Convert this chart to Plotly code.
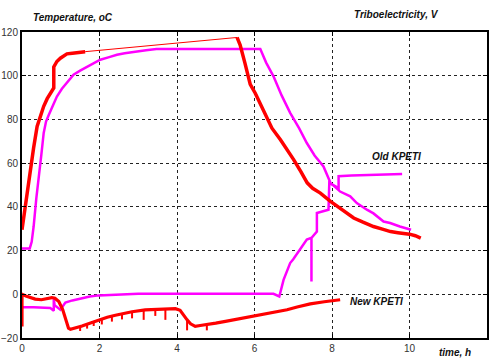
import plotly.graph_objects as go

# ---- data (time in hours) ----
new_temp_x1 = [0, 0.1, 0.2, 0.3, 0.39, 0.48, 0.56, 0.65, 0.73, 0.82, 0.82, 0.9, 0.99, 1.08, 1.16, 1.3, 1.45, 1.63]
new_temp_y1 = [29.5, 43, 55, 67, 76.8, 82, 86, 89.5, 92, 94.4, 104, 106.5, 108, 109.2, 110, 110.3, 110.6, 111]

new_temp_gap_x = [1.63, 5.55]
new_temp_gap_y = [111, 117.5]

new_temp_x2 = [5.55, 5.63, 5.75, 5.89, 6.02, 6.15, 6.28, 6.45, 6.67, 6.85, 7.01, 7.2, 7.36, 7.5, 7.7,
               7.96, 8.21, 8.4, 8.56, 8.8, 9.07, 9.3, 9.51, 9.7, 9.85, 10.0, 10.15, 10.29]
new_temp_y2 = [117.5, 114, 106, 96, 92, 87, 82, 76, 70.7, 66, 61.6, 56, 51, 48.5, 46.3,
               42.5, 39.4, 37, 34.9, 33, 31, 29.8, 28.7, 28.2, 28, 27.5, 26.8, 25.7]

old_temp_x = [0, 0.2, 0.25, 0.3, 0.37, 0.45, 0.5, 0.56, 0.62, 0.69, 0.8, 0.9, 1.03, 1.16, 1.33, 1.5, 1.68,
              1.85, 2.02, 2.25, 2.45, 2.65, 2.88, 3.2, 3.47, 3.8, 4.5, 5.0, 5.5, 6.15, 6.3, 6.49, 6.7,
              6.92, 7.15, 7.35, 7.55, 7.78, 7.96, 8.21, 8.47, 8.64, 8.9, 9.07, 9.33, 9.5, 9.75, 10.04]
old_temp_y = [21, 21, 24, 31, 44, 55, 64, 73.8, 79, 82, 86.5, 90.5, 94, 96.7, 100.5, 102.3, 104,
              105.8, 107.3, 108.5, 109.6, 110.3, 111, 111.7, 112.2, 112.2, 112.2, 112.2, 112.2, 112.2, 106, 99.7, 91,
              83, 76, 69.2, 63.5, 58.5, 51, 47, 44.8, 41.7, 38.7, 37, 33.3, 32.6, 31, 29.5]

old_tribo_x = [0, 0.3, 0.73, 0.8, 0.82, 0.82, 0.84, 0.99, 1.12, 1.3, 1.55, 1.75, 1.98, 2.5, 3, 4, 5, 6,
               6.49, 6.58, 6.64, 6.75, 6.92, 7.0, 7.18, 7.35, 7.47, 7.47, 7.47, 7.61, 7.61, 7.91, 7.93,
               8.17, 8.17, 8.5, 9.0, 9.5, 9.81]
old_tribo_y = [-5.9, -5.9, -6.3, -7, -7.5, -1.7, -5, -7.1, -3.8, -2.8, -1.7, -1, -0.5, 0, 0.2, 0.3, 0.4, 0.3,
               0.2, -0.7, -1, 6.6, 14.3, 16, 20.4, 25, 25.8, 5.9, 25.8, 28.7, 37.2, 38.7, 51,
               48.6, 54, 54.3, 54.6, 54.8, 55]

new_tribo_x = [0, 0, 0.1, 0.34, 0.5, 0.69, 0.77, 0.85, 0.95, 1.05, 1.2, 1.25, 1.4, 1.55, 1.75, 1.98, 2.2,
               2.41, 2.67, 2.84, 3.18, 3.5, 3.96, 4.08, 4.13, 4.2, 4.26, 4.35, 4.47, 4.6, 4.73, 4.85, 5.0,
               5.25, 5.72, 5.98, 6.4, 6.84, 7.1, 7.44, 7.8, 8.21]
new_tribo_y = [-14.7, 0, -0.8, -2.2, -2.5, -1.7, -1.5, -1.8, -3.3, -7, -15.5, -16, -15.3, -14.5, -13.2, -11.7, -10.5,
               -9.6, -8.6, -8.0, -7.1, -6.8, -6.6, -7.3, -8.6, -10.5, -11.7, -13.5, -14.7, -14.3, -14, -13.8, -13.2,
               -12.4, -10.9, -10.2, -8.6, -7.1, -5.8, -4.4, -3.4, -2.5]

# short downward spikes on the New KPETI triboelectricity record
spike_x = [1.50, 1.68, 1.85, 2.06, 2.32, 2.58, 2.84, 3.14, 3.44, 3.70, 4.26, 4.77]
spike_top = [-14.8, -13.7, -12.5, -11.3, -10.0, -9.0, -8.0, -7.2, -6.9, -6.7, -11.7, -14.0]
spike_bottom = [-16.8, -15.7, -14.5, -13.8, -12.5, -11.5, -11.0, -11.7, -9.9, -11.7, -16.5, -16.5]

x_ticks = [0, 2, 4, 6, 8, 10, 12]
y_ticks = [-20, 0, 20, 40, 60, 80, 100, 120]

RED = "#ff0000"
MAG = "#ff00ff"

sx, sy = [], []
for xv, t, b in zip(spike_x, spike_top, spike_bottom):
    sx += [xv, xv, None]
    sy += [t, b, None]

fig = go.Figure()
fig.add_trace(go.Scatter(x=old_temp_x, y=old_temp_y, mode="lines", line=dict(color=MAG, width=2.5)))
fig.add_trace(go.Scatter(x=old_tribo_x, y=old_tribo_y, mode="lines", line=dict(color=MAG, width=2.5)))
fig.add_trace(go.Scatter(x=new_temp_x1, y=new_temp_y1, mode="lines", line=dict(color=RED, width=3.5)))
fig.add_trace(go.Scatter(x=new_temp_gap_x, y=new_temp_gap_y, mode="lines", line=dict(color=RED, width=1)))
fig.add_trace(go.Scatter(x=new_temp_x2, y=new_temp_y2, mode="lines", line=dict(color=RED, width=3.5)))
fig.add_trace(go.Scatter(x=new_tribo_x, y=new_tribo_y, mode="lines", line=dict(color=RED, width=3.2)))
fig.add_trace(go.Scatter(x=sx, y=sy, mode="lines", line=dict(color=RED, width=2), connectgaps=False))

axis_common = dict(
    showline=True, linecolor="black", linewidth=2, mirror="ticks",
    ticks="inside", ticklen=4, tickcolor="black", automargin=False,
    showgrid=True, gridcolor="#222222", griddash="dot", gridwidth=1,
    zeroline=False, tickfont=dict(family="Liberation Sans, Arial", size=10, color="#333333"),
)
fig.update_xaxes(range=[0, 12], tickvals=x_ticks, **axis_common)
fig.update_yaxes(range=[-20, 120], tickvals=y_ticks, **axis_common)

afont = dict(family="Liberation Sans, Arial", size=10, color="#111111")
anns = [
    dict(text="<b><i>Temperature, oC</i></b>", x=0.02, y=1.046, xref="paper", yref="paper", xanchor="left"),
    dict(text="<b><i>Triboelectricity, V</i></b>", x=0.71, y=1.056, xref="paper", yref="paper", xanchor="left"),
    dict(text="<b><i>time, h</i></b>", x=0.892, y=-0.046, xref="paper", yref="paper", xanchor="left"),
    dict(text="<b><i>Old KPETI</i></b>", x=8.99, y=62.9, xref="x", yref="y", xanchor="left"),
    dict(text="<b><i>New KPETI</i></b>", x=8.42, y=-3.4, xref="x", yref="y", xanchor="left"),
]
for a in anns:
    fig.add_annotation(showarrow=False, font=afont, yanchor="middle", **a)

fig.update_layout(
    template="none",
    width=489, height=358, showlegend=False,
    margin=dict(l=22, r=2, t=32, b=20, autoexpand=False),
    plot_bgcolor="white", paper_bgcolor="white",
)
fig.write_html("out.html", config={"displayModeBar": False},
               post_script="document.body.style.margin='0';document.body.style.overflow='hidden';")
